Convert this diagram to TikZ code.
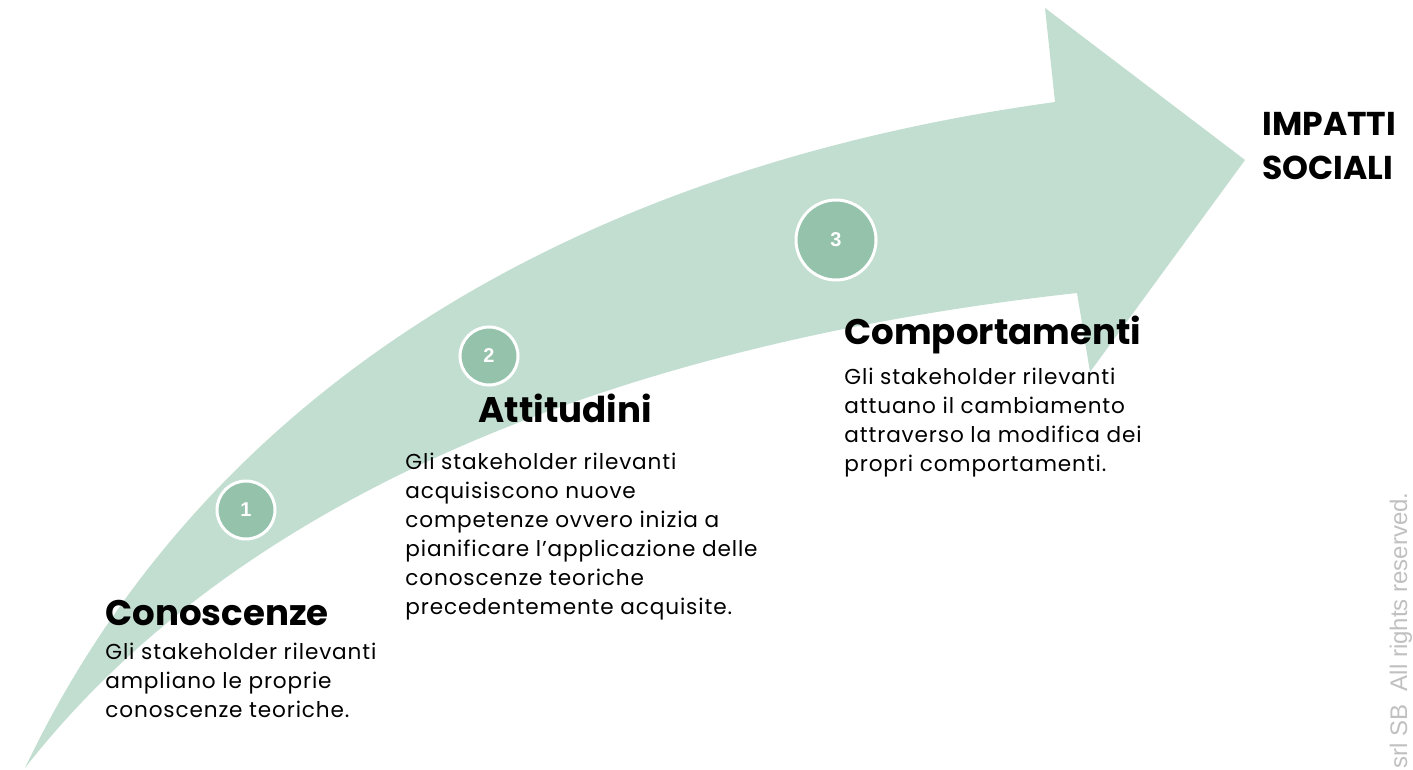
\documentclass[tikz,border=0pt]{standalone}
\usepackage{fontspec}
\setmainfont{Poppins}
\newfontfamily\arialfont{Liberation Sans}
\usetikzlibrary{positioning}
\definecolor{bandgreen}{RGB}{194,222,208}
\definecolor{dotgreen}{RGB}{148,194,171}
\definecolor{notegray}{RGB}{192,192,192}
\tikzset{
  steptitle/.style={inner sep=0pt, anchor=base west, font=\fontsize{17.8}{22}\selectfont\bfseries},
  steptext/.style={inner sep=0pt, align=left, anchor=north west, font=\fontsize{10.8}{14.5}\selectfont\addfontfeature{LetterSpace=4}},
  stepdot/.style={circle, fill=dotgreen, draw=white, line width=1.5pt, text=white, font=\arialfont\bfseries\fontsize{10}{12}\selectfont},
}

\begin{document}
\begin{tikzpicture}[x=0.5pt, y=-0.5pt]
\useasboundingbox (0,0) rectangle (1413,770);

% curved arrow
\fill[bandgreen] (25,768) .. controls (200,400) and (560,170) .. (1055,102)
  -- (1045,8) -- (1245,160) -- (1090,372) -- (1077,293)
  .. controls (650,340) and (250,480) .. (25,768) -- cycle;

% numbered dots
\node[stepdot, minimum size=29pt] (d1) at (246,510) {1};
\node[stepdot, minimum size=29pt] (d2) at (489,356) {2};
\node[stepdot, minimum size=40pt] (d3) at (836,240) {3};

% steps
\node[steptitle] (conh) at (105,625) {Conoscenze};
\node[steptext, below=9pt of conh.base west, anchor=north west] (cont) {Gli stakeholder rilevanti\\ampliano le proprie\\conoscenze teoriche.};

\node[steptitle] (atth) at (478,422) {Attitudini};
\node[steptext, below=15.5pt of atth.base west, anchor=north west, xshift=-36.5pt] (attt) {Gli stakeholder rilevanti\\acquisiscono nuove\\competenze ovvero inizia a\\pianificare l'applicazione delle\\conoscenze teoriche\\precedentemente acquisite.};

\node[steptitle] (comh) at (844,344) {Comportamenti};
\node[steptext, below=12pt of comh.base west, anchor=north west] (comt) {Gli stakeholder rilevanti\\attuano il cambiamento\\attraverso la modifica dei\\propri comportamenti.};

\node[steptitle, align=left, anchor=north west, font=\fontsize{16.5}{22}\selectfont\bfseries] (goal) at (1262,112) {IMPATTI\\SOCIALI};

% copyright
\node[rotate=90, anchor=base west, inner sep=0pt, text=notegray, font=\arialfont\fontsize{12}{14}\selectfont] (note) at (1407,769) {srl SB\ \ All rights reserved.};
\end{tikzpicture}
\end{document}
